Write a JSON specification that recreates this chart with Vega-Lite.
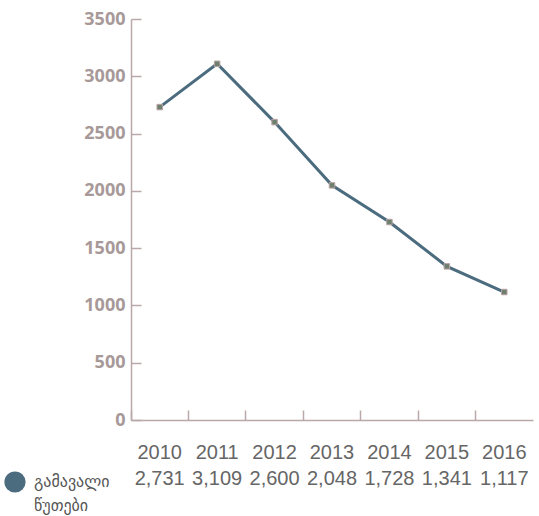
{
  "$schema": "https://vega.github.io/schema/vega-lite/v6.json",
  "padding": {"left": 4, "top": 10, "right": 4, "bottom": 4},
  "background": "white",
  "config": {"view": {"stroke": null}, "concat": {"spacing": 11}},
  "datasets": {
    "d": [
      {"year": "2010", "value": 2731, "series": "გამავალი წუთები"},
      {"year": "2011", "value": 3109, "series": "გამავალი წუთები"},
      {"year": "2012", "value": 2600, "series": "გამავალი წუთები"},
      {"year": "2013", "value": 2048, "series": "გამავალი წუთები"},
      {"year": "2014", "value": 1728, "series": "გამავალი წუთები"},
      {"year": "2015", "value": 1341, "series": "გამავალი წუთები"},
      {"year": "2016", "value": 1117, "series": "გამავალი წუთები"}
    ]
  },
  "vconcat": [
    {
      "width": 402,
      "height": 401,
      "data": {"name": "d"},
      "layer": [
        {
          "mark": {"type": "line", "strokeWidth": 3},
          "encoding": {
            "x": {"field": "year", "type": "ordinal", "scale": {"type": "band", "paddingInner": 0, "paddingOuter": 0},
              "axis": {"title": null, "labels": false, "bandPosition": 0, "tickSize": -10, "domainColor": "#b9a9a9", "tickColor": "#b9a9a9", "domainWidth": 1.5, "tickWidth": 1.5, "minExtent": 0, "maxExtent": 0}},
            "y": {"field": "value", "type": "quantitative", "scale": {"domain": [0, 3500], "nice": false},
              "axis": {"title": null, "values": [0, 500, 1000, 1500, 2000, 2500, 3000, 3500], "format": "d", "grid": false, "tickSize": -10, "domainColor": "#b9a9a9", "tickColor": "#b9a9a9", "domainWidth": 1.5, "tickWidth": 1.5, "labelColor": "#a89999", "labelFont": "Open Sans", "labelFontWeight": "bold", "labelFontSize": 18, "labelPadding": 16, "labelFlush": false}},
            "color": {"field": "series", "type": "nominal", "scale": {"range": ["#4b6b7e"]},
              "legend": {"title": null, "orient": "none", "legendX": -127, "legendY": 452, "symbolType": "circle", "symbolSize": 450, "labelFont": "DejaVu Sans", "labelFontSize": 16, "labelColor": "#555555", "labelExpr": "split(datum.label, ' ')", "labelOffset": 8,
                "encode": {"symbols": {"update": {"fill": {"value": "#4b6b7e"}, "stroke": {"value": "#4b6b7e"}, "strokeWidth": {"value": 0}}}, "labels": {"update": {"lineHeight": {"value": 24}}}}}}
          }
        },
        {
          "mark": {"type": "square", "size": 30, "filled": true, "fill": "#6d8070", "stroke": "#b9a3a3", "strokeWidth": 1, "opacity": 1},
          "encoding": {
            "x": {"field": "year", "type": "ordinal"},
            "y": {"field": "value", "type": "quantitative"}
          }
        }
      ]
    },
    {
      "width": 402,
      "height": 52,
      "data": {"name": "d"},
      "layer": [
        {
          "mark": {"type": "text", "fontSize": 20, "color": "#666666", "font": "Liberation Sans"},
          "encoding": {
            "x": {"field": "year", "type": "ordinal", "scale": {"type": "band", "paddingInner": 0, "paddingOuter": 0}, "axis": null},
            "y": {"datum": "year", "type": "nominal", "scale": {"domain": ["year", "value"]}, "axis": null},
            "text": {"field": "year"}
          }
        },
        {
          "mark": {"type": "text", "fontSize": 20, "color": "#666666", "font": "Liberation Sans"},
          "encoding": {
            "x": {"field": "year", "type": "ordinal"},
            "y": {"datum": "value", "type": "nominal"},
            "text": {"field": "value", "type": "quantitative", "format": ","}
          }
        }
      ]
    }
  ]
}
